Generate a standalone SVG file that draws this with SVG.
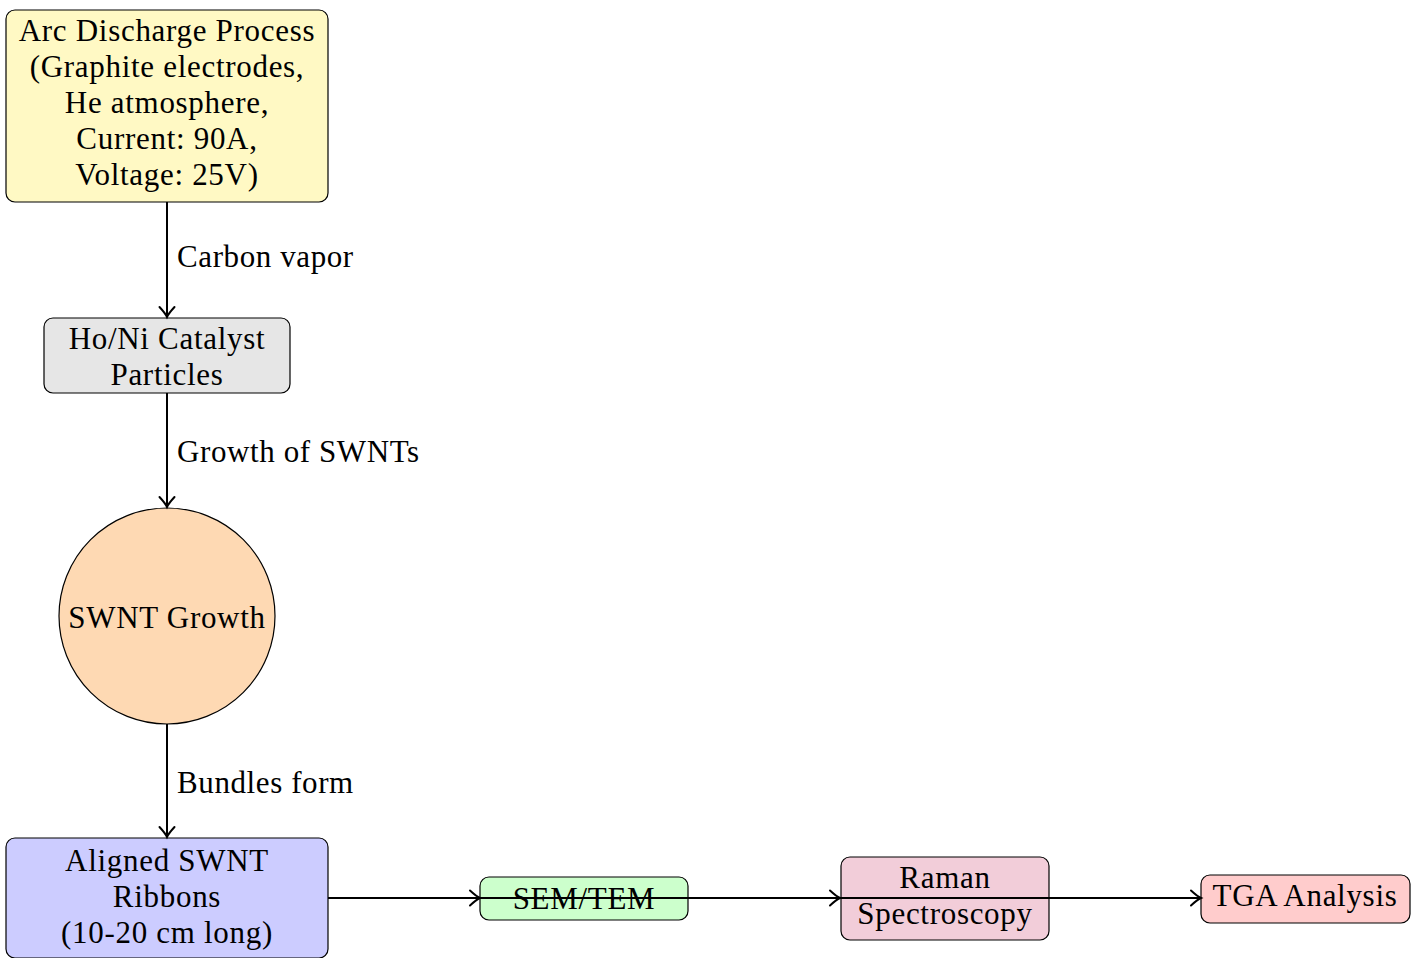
<svg xmlns="http://www.w3.org/2000/svg" width="1420" height="958" viewBox="0 0 1420 958">
<defs>
<style>
.n{stroke:#000;stroke-width:1.2}
.t{font-family:"Liberation Serif","DejaVu Serif",serif;font-size:31px;letter-spacing:0.7px;fill:#000;text-anchor:middle}
.l{font-family:"Liberation Serif","DejaVu Serif",serif;font-size:31px;letter-spacing:0.6px;fill:#000}
.c{stroke:#000;stroke-width:2;fill:none}
</style>
<marker id="ah" markerUnits="userSpaceOnUse" markerWidth="20" markerHeight="20" viewBox="-12 -10 14 20" refX="0" refY="0" orient="auto">
<path d="M-10,-7.5 Q-3.5,-1.5 0,0 Q-3.5,1.5 -10,7.5" fill="none" stroke="#000" stroke-width="2" stroke-linecap="round"/>
</marker>
</defs>
<rect width="1420" height="958" fill="#fff"/>
<g id="arc">
<rect class="n" x="6" y="10" width="322" height="192" rx="9" fill="#fff9c4"/>
<text class="t" x="167" y="41">Arc Discharge Process</text>
<text class="t" x="167" y="77">(Graphite electrodes,</text>
<text class="t" x="167" y="113">He atmosphere,</text>
<text class="t" x="167" y="149">Current: 90A,</text>
<text class="t" x="167" y="185">Voltage: 25V)</text>
</g>
<g id="catalyst">
<rect class="n" x="44" y="318" width="246" height="75" rx="9" fill="#e6e6e6"/>
<text class="t" x="167" y="349">Ho/Ni Catalyst</text>
<text class="t" x="167" y="385">Particles</text>
</g>
<g id="growth">
<circle class="n" cx="167" cy="616" r="108" fill="#fed9b3"/>
<text class="t" x="167" y="628">SWNT Growth</text>
</g>
<g id="ribbons">
<rect class="n" x="6" y="838" width="322" height="120" rx="9" fill="#ccccff"/>
<text class="t" x="167" y="871">Aligned SWNT</text>
<text class="t" x="167" y="907">Ribbons</text>
<text class="t" x="167" y="943">(10-20 cm long)</text>
</g>
<g id="semtem">
<rect class="n" x="480" y="877" width="208" height="43" rx="9" fill="#ccffcc"/>
<text class="t" x="584" y="909">SEM/TEM</text>
</g>
<g id="raman">
<rect class="n" x="841" y="857" width="208" height="83" rx="9" fill="#f2cdd9"/>
<text class="t" x="945" y="888">Raman</text>
<text class="t" x="945" y="924">Spectroscopy</text>
</g>
<g id="tga">
<rect class="n" x="1201" y="875" width="209" height="48" rx="9" fill="#ffcccc"/>
<text class="t" x="1305" y="906">TGA Analysis</text>
</g>
<g id="connectors">
<line class="c" x1="167" y1="202" x2="167" y2="317" marker-end="url(#ah)"/>
<line class="c" x1="167" y1="393" x2="167" y2="507" marker-end="url(#ah)"/>
<line class="c" x1="167" y1="724" x2="167" y2="837" marker-end="url(#ah)"/>
<line class="c" x1="328" y1="898" x2="480" y2="898" marker-end="url(#ah)"/>
<line class="c" x1="480" y1="898" x2="840" y2="898" marker-end="url(#ah)"/>
<line class="c" x1="840" y1="898" x2="1201" y2="898" marker-end="url(#ah)"/>
<text class="l" x="177" y="267">Carbon vapor</text>
<text class="l" x="177" y="462">Growth of SWNTs</text>
<text class="l" x="177" y="793">Bundles form</text>
</g>
</svg>
